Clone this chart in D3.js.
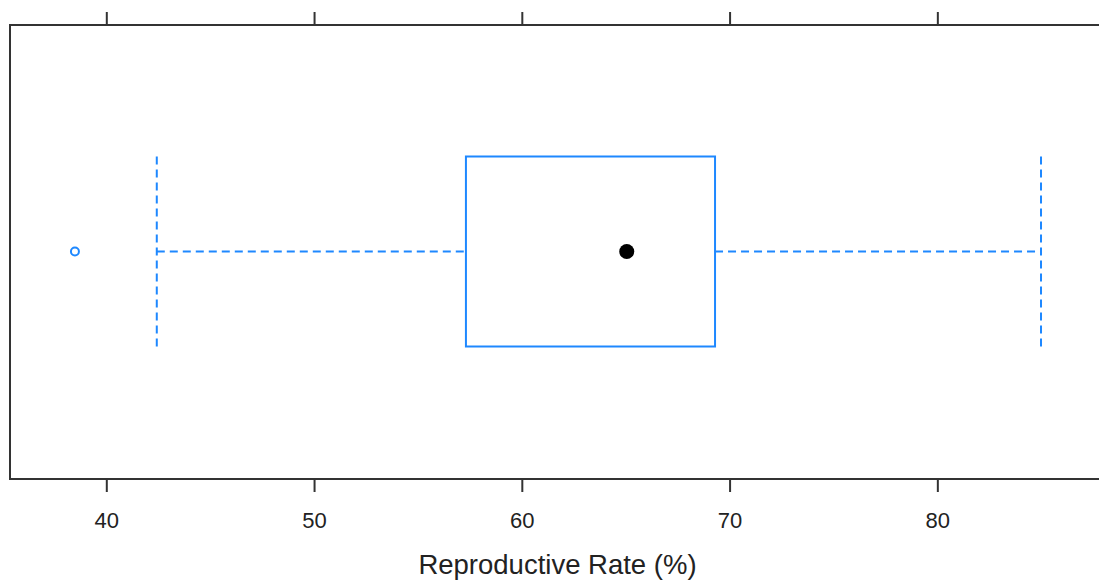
<!DOCTYPE html>
<html><head><meta charset="utf-8">
<script src="https://cdn.jsdelivr.net/npm/d3@7"></script>
<style>html,body{margin:0;padding:0;background:#fff;}svg{display:block;}</style>
</head><body>
<svg id="chart" width="1099" height="580"></svg>
<script>
// Data (Reproductive Rate, %)
const statNames = ["lowerWhisker", "q1", "median", "q3", "upperWhisker"];
const statValues = [42.43, 57.31, 65.05, 69.30, 84.99];
const outliers = [38.49];
const tickValues = [40, 50, 60, 70, 80];
const xDomain = [35.365, 88.07];
const xLabel = "Reproductive Rate (%)";

const W = 1099, H = 580;
const panel = {left: 10, right: 1105, top: 25, bottom: 479};
const svg = d3.select("#chart");
const x = d3.scaleLinear().domain(xDomain).range([panel.left, panel.right]);
const yMid = 251.5, halfBox = 95;
const blue = "#1e88ff";
const stat = Object.fromEntries(statNames.map((n, i) => [n, statValues[i]]));

// Panel border
svg.append("rect")
  .attr("x", panel.left).attr("y", panel.top)
  .attr("width", panel.right - panel.left).attr("height", panel.bottom - panel.top)
  .attr("fill", "none").attr("stroke", "#333").attr("stroke-width", 2);

// Axes
const bottomAxis = d3.axisBottom(x).tickValues(tickValues).tickSize(13).tickPadding(6).tickFormat(d3.format("d"));
const topAxis = d3.axisTop(x).tickValues(tickValues).tickSize(13).tickFormat("");
const gb = svg.append("g").attr("transform", `translate(0,${panel.bottom})`).call(bottomAxis);
const gt = svg.append("g").attr("transform", `translate(0,${panel.top})`).call(topAxis);
[gb, gt].forEach(g => {
  g.select(".domain").remove();
  g.selectAll(".tick line").attr("stroke", "#333").attr("stroke-width", 2);
  g.selectAll(".tick text").attr("fill", "#222")
    .attr("font-family", "'Liberation Sans', Arial, sans-serif").attr("font-size", 22);
});
gb.selectAll(".tick text").attr("dy", null).attr("y", null)
  .attr("transform", "translate(0,49)");

// Axis title
svg.append("text").attr("x", (panel.left + panel.right) / 2).attr("y", 573.5)
  .attr("text-anchor", "middle")
  .attr("font-family", "'Liberation Sans', Arial, sans-serif").attr("font-size", 27.5)
  .attr("fill", "#222").text(xLabel);

const g = svg.append("g");
// Whiskers (dashed)
const dash = "8,5";
g.append("line").attr("x1", x(stat.lowerWhisker)).attr("x2", x(stat.q1))
  .attr("y1", yMid).attr("y2", yMid)
  .attr("stroke", blue).attr("stroke-width", 2).attr("stroke-dasharray", dash);
g.append("line").attr("x1", x(stat.q3)).attr("x2", x(stat.upperWhisker))
  .attr("y1", yMid).attr("y2", yMid)
  .attr("stroke", blue).attr("stroke-width", 2).attr("stroke-dasharray", dash);
[stat.lowerWhisker, stat.upperWhisker].forEach(v => {
  g.append("line").attr("x1", x(v)).attr("x2", x(v))
    .attr("y1", yMid - halfBox).attr("y2", yMid + halfBox)
    .attr("stroke", blue).attr("stroke-width", 2).attr("stroke-dasharray", dash);
});
// Box
g.append("rect").attr("x", x(stat.q1)).attr("y", yMid - halfBox)
  .attr("width", x(stat.q3) - x(stat.q1)).attr("height", 2 * halfBox)
  .attr("fill", "none").attr("stroke", blue).attr("stroke-width", 2);
// Median dot
g.append("circle").attr("cx", x(stat.median)).attr("cy", yMid).attr("r", 7.5).attr("fill", "#000");
// Outliers
g.selectAll(".out").data(outliers).join("circle").attr("class", "out")
  .attr("cx", d => x(d)).attr("cy", yMid).attr("r", 4)
  .attr("fill", "none").attr("stroke", blue).attr("stroke-width", 2);
</script>
</body></html>
